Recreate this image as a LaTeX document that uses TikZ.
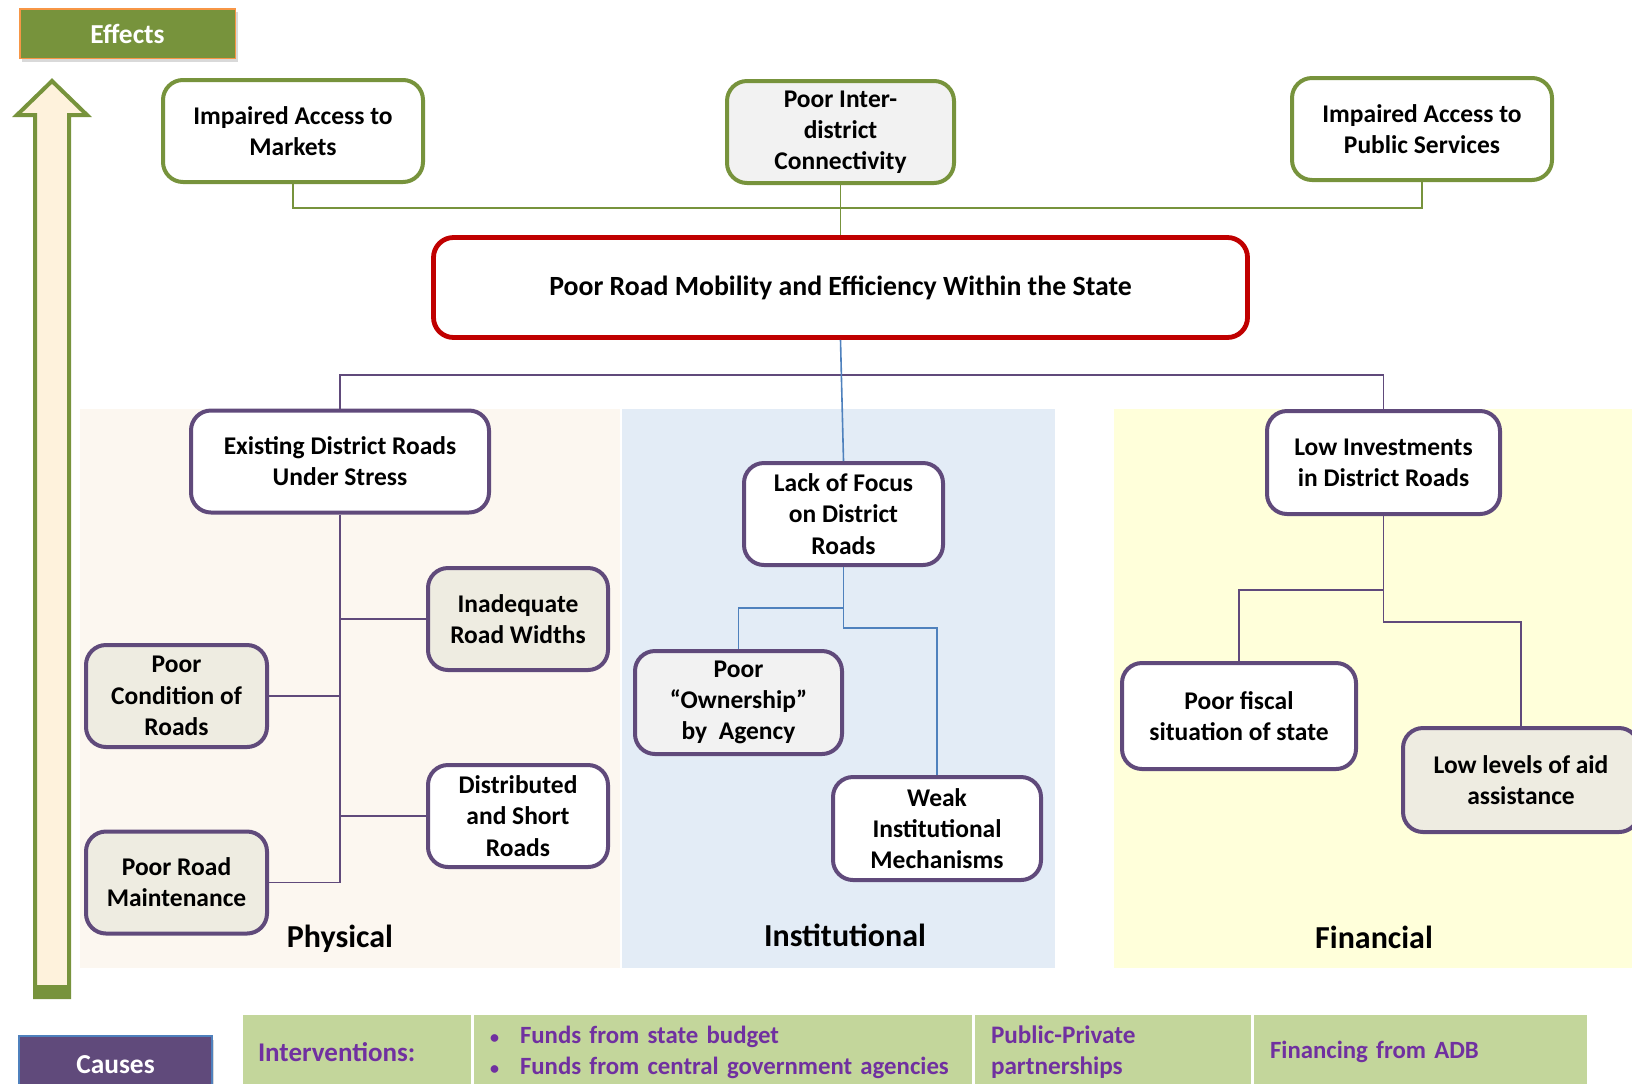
\documentclass[tikz,border=0pt]{standalone}
\usepackage{fontspec}
\setmainfont{Carlito}
\usepackage{tikz}
\usetikzlibrary{shadows}
\definecolor{effgreen}{HTML}{77933C}
\definecolor{efforange}{HTML}{F79646}
\definecolor{mainred}{HTML}{C00000}
\definecolor{causepurple}{HTML}{604A7B}
\definecolor{instblue}{HTML}{4F81BD}
\definecolor{greyfill}{HTML}{EEECE1}
\definecolor{lightfill}{HTML}{F2F2F2}
\definecolor{arrowcream}{HTML}{FEF2DC}
\definecolor{physbg}{HTML}{FCF7F0}
\definecolor{instbg}{HTML}{E3ECF6}
\definecolor{finbg}{HTML}{FFFFDA}
\definecolor{tabgreen}{HTML}{C3D69B}
\definecolor{tabtext}{HTML}{7030A0}
\newcommand{\probfont}{\fontsize{12.75}{15.6}\selectfont\bfseries}
\tikzstyle{probbox}=[rectangle, rounded corners=10pt, draw, line width=2pt, fill=white, minimum height=51pt, align=center, font=\probfont]
\tikzstyle{effectbox}=[probbox, draw=effgreen]
\tikzstyle{causebox}=[probbox, draw=causepurple]
\tikzstyle{mainbox}=[probbox, draw=mainred, line width=2.4pt, minimum width=407pt, minimum height=50pt, font=\fontsize{13.9}{16}\selectfont\bfseries]
\tikzstyle{tagbox}=[rectangle, text=white, font=\fontsize{13.7}{16}\selectfont\bfseries, drop shadow={shadow xshift=1.2pt, shadow yshift=-1.8pt, opacity=0.3}]
\tikzstyle{panellabel}=[font=\fontsize{16}{18}\selectfont\bfseries]
\tikzstyle{tabcell}=[rectangle, fill=tabgreen, draw=white, line width=1pt, anchor=west, align=left, minimum height=38pt, inner ysep=0pt, text=tabtext, font=\fontsize{12.6}{15.5}\selectfont\bfseries]
\tikzstyle{effline}=[draw=effgreen, line width=0.7pt]
\tikzstyle{causeline}=[draw=causepurple, line width=0.7pt]
\tikzstyle{instline}=[draw=instblue, line width=0.8pt]
\newcommand{\effect}[4][]{
	\node[effectbox,#1] (#2) at (#3) {#4};}
\newcommand{\cause}[4][]{
	\node[causebox,#1] (#2) at (#3) {#4};}
\newcommand{\tabbullet}{\makebox[16.5pt][l]{\hspace{1.5pt}{\fontsize{9}{9}\selectfont\textbullet}}}

\begin{document}
\begin{tikzpicture}[x=0.5pt,y=-0.5pt]
\useasboundingbox (0,0) rectangle (1632,1083);
% panels
\fill[physbg] (80,409) rectangle (620,968);
\fill[instbg] (622,409) rectangle (1055,968);
\fill[finbg] (1114,409) rectangle (1632,968);
% arrow
\filldraw[draw=effgreen, fill=arrowcream, line width=2pt] (52,81) -- (87,115) -- (69,115) -- (69,997) -- (35,997) -- (35,115) -- (17,115) -- cycle;
\fill[effgreen] (33,985) rectangle (71,999);
\node[tagbox, fill=effgreen, draw=efforange, line width=0.75pt, minimum width=107.75pt, minimum height=24.75pt] (effects) at (127.5,33.5) {Effects};
% effects
\effect[minimum width=130pt]{mkt}{293,131}{Impaired Access to\\Markets}
\effect[fill=lightfill, minimum width=113.5pt]{conn}{840.5,132}{Poor Inter-\\district\\Connectivity}
\effect[minimum width=130pt]{svc}{1422,129}{Impaired Access to\\Public Services}
\node[mainbox] (main) at (840.5,287.5) {Poor Road Mobility and Efficiency Within the State};
% physical
\cause[minimum width=149pt]{exist}{340,461.5}{Existing District Roads\\Under Stress}
\cause[fill=greyfill, minimum width=90pt]{inad}{518,619}{Inadequate\\Road Widths}
\cause[fill=greyfill, minimum width=90.5pt]{cond}{176.5,696}{Poor\\Condition of\\Roads}
\cause[minimum width=90pt]{dist}{518,816}{Distributed\\and Short\\Roads}
\cause[fill=greyfill, minimum width=90.5pt]{maint}{176.5,882.5}{Poor Road\\Maintenance}
% institutional
\cause[minimum width=99.5pt]{lack}{843.5,514}{Lack of Focus\\on District\\Roads}
\cause[fill=lightfill, minimum width=103.5pt, minimum height=51.5pt]{own}{738.5,702.5}{Poor\\“Ownership”\\by\ \ Agency}
\cause[minimum width=104pt, minimum height=51.5pt]{weak}{937,828.5}{Weak\\Institutional\\Mechanisms}
% financial
\cause[minimum width=116.5pt, minimum height=51.5pt]{lowinv}{1383.5,462.5}{Low Investments\\in District Roads}
\cause[minimum width=117pt, minimum height=53pt]{fiscal}{1239,716}{Poor fiscal\\situation of state}
\cause[fill=greyfill, minimum width=118pt, minimum height=52pt]{aid}{1521,780}{Low levels of aid\\assistance}
\node[panellabel] (physlabel) at (340,939) {Physical};
\node[panellabel] (instlabel) at (845,935) {Institutional};
\node[panellabel] (finlabel) at (1374,937) {Financial};
% connectors
\coordinate (effjoin) at (840.5,208);
\coordinate (causejoin) at (840.5,375);
\coordinate (instjoin) at (843.5,608);
\coordinate (instjoin2) at (843.5,628);
\coordinate (finjoin) at (1383.5,590);
\coordinate (finjoin2) at (1383.5,622);
\draw[effline] (mkt.south) |- (effjoin) -| (svc.south);
\draw[effline] (conn.south) -- (main.north);
\draw[causeline] (exist.north) |- (causejoin) -| (lowinv.north);
\draw[instline] (main.south) -- (lack.north);
\draw[causeline] (exist.south) |- (maint.east);
\draw[causeline] (inad.west) -| (exist.south);
\draw[causeline] (cond.east) -| (exist.south);
\draw[causeline] (dist.west) -| (exist.south);
\draw[instline] (lack.south) -- (instjoin) -| (own.north);
\draw[instline] (instjoin) -- (instjoin2) -| (weak.north);
\draw[causeline] (lowinv.south) -- (finjoin) -| (fiscal.north);
\draw[causeline] (finjoin) -- (finjoin2) -| (aid.north);
% causes and interventions
\node[tagbox, fill=causepurple, draw=instblue, line width=0.6pt, minimum width=96.5pt, minimum height=29pt] (causes) at (115.5,1065) {Causes};
\node[tabcell, inner xsep=8pt, text width=99pt, font=\fontsize{13.5}{15.5}\selectfont\bfseries] (interv) at (241,1052) {Interventions:};
\node[tabcell, inner xsep=7pt, text width=236pt, font=\fontsize{12.4}{15.5}\selectfont\bfseries] (budget) at (472,1052) {\tabbullet Funds from state budget\\\tabbullet Funds from central government agencies};
\node[tabcell, inner xsep=8.5pt, text width=122pt] (ppp) at (973,1052) {Public-Private\\partnerships};
\node[tabcell, inner xsep=8.5pt, text width=150.5pt, font=\fontsize{12.4}{15.5}\selectfont\bfseries] (adb) at (1252,1052) {Financing from ADB};
\end{tikzpicture}
\end{document}
